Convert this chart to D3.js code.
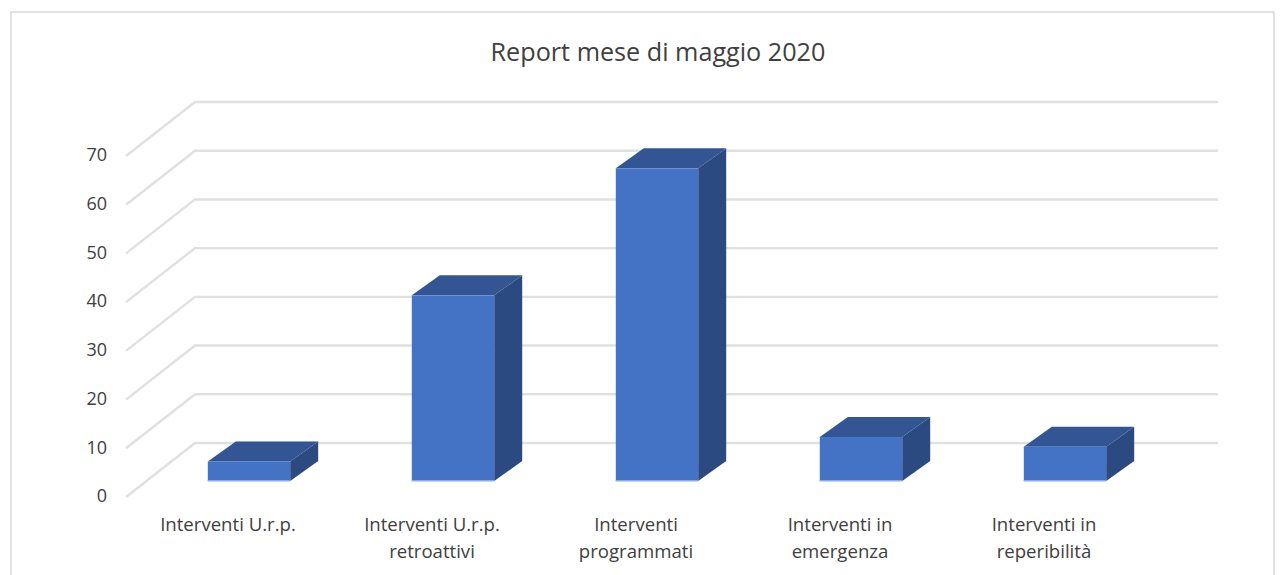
<!DOCTYPE html>
<html>
<head>
<meta charset="utf-8">
<script src="https://cdn.jsdelivr.net/npm/d3@7"></script>
<style>
  html, body { margin: 0; padding: 0; background: #fff; overflow: hidden; }
  text { font-family: "Open Sans", Lato, sans-serif; fill: #404040; }
</style>
</head>
<body>
<div id="chart"></div>
<script>
const categories = [
  ["Interventi U.r.p."],
  ["Interventi U.r.p.", "retroattivi"],
  ["Interventi", "programmati"],
  ["Interventi in", "emergenza"],
  ["Interventi in", "reperibilità"]
];
const values = [4, 38, 64, 9, 7];
const ticks = [0, 10, 20, 30, 40, 50, 60, 70];
const title = "Report mese di maggio 2020";

const width = 1284;
const height = 575;

// 3d offsets, floor depth and bar depth
const floorDx = 69, floorDy = -54;
const barDx = 28, barDy = -20;

const svg = d3.select("#chart")
  .append("svg")
  .attr("width", width)
  .attr("height", height);

// chart frame, bottom edge is cut by the picture
svg.append("path")
  .attr("d", "M11,575V12H1274V575")
  .attr("fill", "none")
  .attr("stroke", "#d9d9d9")
  .attr("stroke-width", 1.5);

svg.append("text")
  .attr("x", 658)
  .attr("y", 61)
  .attr("text-anchor", "middle")
  .attr("font-size", 25.2)
  .text(title);

// y for the front edge of the floor
const yFront = d3.scaleLinear().domain([0, 70]).range([497, 156]);
// y for the bars, which stand in the middle of the floor
const yBar = d3.scaleLinear().domain([0, 70]).range([481, 139]);

const xBand = d3.scaleBand()
  .domain(d3.range(categories.length))
  .range([147, 1167])
  .paddingInner(0.596)
  .paddingOuter(0.298);

// gridlines
const grid = svg.append("g");
ticks.forEach(t => {
  const y = yFront(t);
  grid.append("path")
    .attr("d", d3.line()([[126, y], [126 + floorDx, y + floorDy], [1218, y + floorDy]]))
    .attr("fill", "none")
    .attr("stroke", "#e0e0e0")
    .attr("stroke-width", 2.4);
});

// y axis
const yAxis = svg.append("g")
  .attr("transform", "translate(113,-1)")
  .call(d3.axisLeft(yFront).tickValues(ticks).tickSize(0).tickPadding(6));
yAxis.select(".domain").remove();
yAxis.selectAll("text")
  .attr("font-size", 18)
  .style("font-family", "'Open Sans', Lato, sans-serif")
  .attr("fill", "#404040");

// bars
const bars = svg.selectAll(".bar")
  .data(values)
  .join("g")
  .attr("class", "bar");

bars.append("path")
  .attr("fill", "#2b4a82")
  .attr("d", (d, i) => {
    const r = xBand(i) + xBand.bandwidth();
    const t = yBar(d), b = yBar(0);
    return `M${r},${t}L${r + barDx},${t + barDy}V${b + barDy}L${r},${b}Z`;
  });

bars.append("path")
  .attr("fill", "#335593")
  .attr("d", (d, i) => {
    const l = xBand(i), r = l + xBand.bandwidth();
    const t = yBar(d);
    return `M${l},${t}L${l + barDx},${t + barDy}H${r + barDx}L${r},${t}Z`;
  });

bars.append("rect")
  .attr("fill", "#4472c4")
  .attr("x", (d, i) => xBand(i))
  .attr("y", d => yBar(d))
  .attr("width", xBand.bandwidth())
  .attr("height", d => yBar(0) - yBar(d));

// light line on the bottom of the front face
bars.append("rect")
  .attr("fill", "#8faadc")
  .attr("x", (d, i) => xBand(i))
  .attr("y", yBar(0) - 1)
  .attr("width", xBand.bandwidth())
  .attr("height", 1.5);

// category labels
const labels = svg.selectAll(".cat")
  .data(categories)
  .join("text")
  .attr("class", "cat")
  .attr("text-anchor", "middle")
  .attr("font-size", 18.6);

labels.selectAll("tspan")
  .data((d, i) => d.map((line, j) => ({ line, j, i })))
  .join("tspan")
  .attr("x", d => xBand(d.i) + xBand.bandwidth() / 2 - 21)
  .attr("y", d => 531 + d.j * 27)
  .text(d => d.line);
</script>
</body>
</html>
